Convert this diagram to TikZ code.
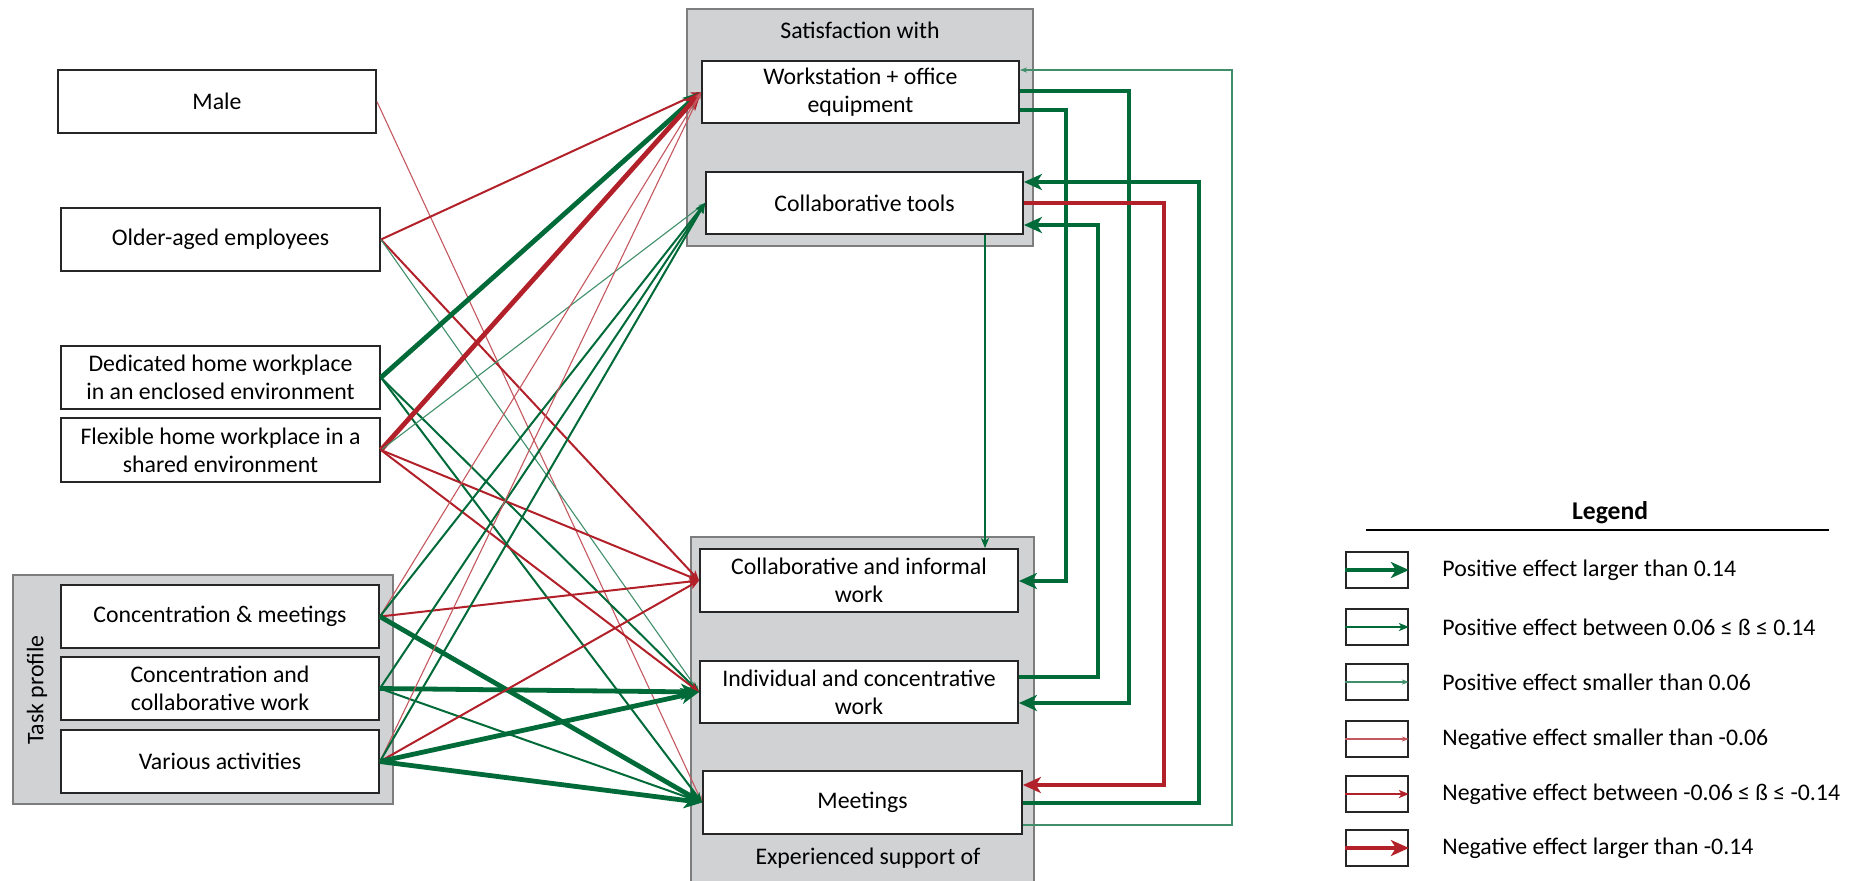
\documentclass[tikz,border=0pt]{standalone}
\usepackage{fontspec}
\setmainfont{Carlito}
\usetikzlibrary{arrows.meta}
\definecolor{pgreen}{RGB}{0,106,56}
\definecolor{nred}{RGB}{178,32,42}
\definecolor{grpfill}{RGB}{209,210,212}
\definecolor{grpline}{RGB}{125,125,125}
\begin{document}
\begin{tikzpicture}[x=0.5pt,y=-0.5pt,
  font=\fontsize{11.9pt}{14pt}\selectfont,
  grp/.style={draw=grpline, fill=grpfill, line width=0.7pt, inner sep=0pt},
  box/.style={draw=black!85, fill=white, line width=0.9pt, inner sep=0pt, align=center, minimum height=31.5pt},
  legbox/.style={draw=black!85, fill=white, line width=0.9pt, inner sep=0pt, minimum width=31pt, minimum height=18pt},
  lbl/.style={inner sep=0pt},
  pa/.style={draw=pgreen, line width=2.4pt, -{Stealth[length=9pt,width=8pt,inset=2.5pt]}},
  pb/.style={draw=pgreen, line width=1pt, -{Stealth[length=5pt,width=4pt,inset=1.3pt]}},
  pc/.style={draw=pgreen!75, line width=0.55pt, -{Stealth[length=3.5pt,width=2.5pt,inset=1pt]}},
  na/.style={draw=nred, line width=2.4pt, -{Stealth[length=9pt,width=8pt,inset=2.5pt]}},
  nb/.style={draw=nred, line width=1pt, -{Stealth[length=5pt,width=4pt,inset=1.3pt]}},
  nc/.style={draw=nred!75, line width=0.55pt, -{Stealth[length=3.5pt,width=2.5pt,inset=1pt]}}
]
\useasboundingbox (0,0) rectangle (1856,880);

% group containers
\node[grp, minimum width=173pt, minimum height=118.5pt] (satgrp) at (860,127.5) {};
\node[grp, minimum width=171.5pt, minimum height=176pt] (expgrp) at (862.5,713) {};
\node[grp, minimum width=190pt, minimum height=114.5pt] (taskgrp) at (203,689.5) {};

\node[lbl] (satlbl) at (860,30) {Satisfaction with};
\node[lbl] (explbl) at (868,858) {Experienced support of};
\node[lbl, rotate=90] (tasklbl) at (37,690) {Task profile};

% left boxes
\node[box, minimum width=159pt] (male) at (217,101.5) {Male};
\node[box, minimum width=159.5pt] (older) at (220.5,239.5) {Older-aged employees};
\node[box, minimum width=159.5pt] (ded) at (220.5,377.5) {Dedicated home workplace\\in an enclosed environment};
\node[box, minimum width=159.5pt, minimum height=32pt] (flex) at (220.5,450) {Flexible home workplace in a\\shared environment};
\node[box, minimum width=159pt] (cm) at (220,616.5) {Concentration \& meetings};
\node[box, minimum width=159pt] (cc) at (220,688.5) {Concentration and\\collaborative work};
\node[box, minimum width=159pt] (va) at (220,761.5) {Various activities};

% right boxes
\node[box, minimum width=158.5pt, minimum height=31pt] (work) at (860.5,92) {Workstation + office\\equipment};
\node[box, minimum width=158.5pt, minimum height=31pt] (tools) at (864.5,203) {Collaborative tools};
\node[box, minimum width=159pt] (ci) at (859,580.5) {Collaborative and informal\\work};
\node[box, minimum width=159pt, minimum height=31pt] (ind) at (859,692) {Individual and concentrative\\work};
\node[box, minimum width=159.5pt] (meet) at (862.5,802.5) {Meetings};

% left-to-right effects
\draw[nc] (male.east) -- (meet.west);
\draw[nb] (older.east) -- (work.west);
\draw[nb] (older.east) -- (ci.west);
\draw[pc] (older.east) -- (ind.west);
\draw[pa] (ded.east) -- (work.west);
\draw[pb] (ded.east) -- (ind.west);
\draw[pb] (ded.east) -- (meet.west);
\draw[na] (flex.east) -- (work.west);
\draw[pc] (flex.east) -- (tools.west);
\draw[nb] (flex.east) -- (ci.west);
\draw[nb] (flex.east) -- (ind.west);
\draw[nc] (cm.east) -- (work.west);
\draw[pb] (cm.east) -- (tools.west);
\draw[nb] (cm.east) -- (ci.west);
\draw[pa] (cm.east) -- (meet.west);
\draw[pb] (cc.east) -- (tools.west);
\draw[pa] (cc.east) -- (ind.west);
\draw[pb] (cc.east) -- (meet.west);
\draw[nc] (va.east) -- (work.west);
\draw[pb] (va.east) -- (tools.west);
\draw[nb] (va.east) -- (ci.west);
\draw[pa] (va.east) -- (ind.west);
\draw[pa] (va.east) -- (meet.west);

% right-side feedback effects
\draw[pc] (meet.east |- 0,825) -| (1232,70) -- (work.east |- 0,70);
\draw[pa] (work.east |- 0,91) -| (1129,703) -- (ind.east |- 0,703);
\draw[pa] (work.east |- 0,110) -| (1066,581) -- (ci.east |- 0,581);
\draw[pa] (meet.east |- 0,803) -| (1199,182) -- (tools.east |- 0,182);
\draw[na] (tools.east |- 0,203) -| (1164,785) -- (meet.east |- 0,785);
\draw[pa] (ind.east |- 0,677) -| (1098,225) -- (tools.east |- 0,225);
\draw[pb] (tools.south -| 985,0) -- (ci.north -| 985,0);

% legend
\node[lbl, font=\fontsize{12.8pt}{14pt}\selectfont\bfseries] (legtitle) at (1610,513) {Legend};
\coordinate (ruleL) at (1366,530);
\coordinate (ruleR) at (1829,530);
\draw[line width=1pt] (ruleL) -- (ruleR);

\node[legbox] (l1) at (1377,570) {};
\node[legbox] (l2) at (1377,627) {};
\node[legbox] (l3) at (1377,682) {};
\node[legbox] (l4) at (1377,739) {};
\node[legbox] (l5) at (1377,794) {};
\node[legbox] (l6) at (1377,848) {};
\draw[pa] (l1.west) -- (l1.east);
\draw[pb] (l2.west) -- (l2.east);
\draw[pc] (l3.west) -- (l3.east);
\draw[nc] (l4.west) -- (l4.east);
\draw[nb] (l5.west) -- (l5.east);
\draw[na] (l6.west) -- (l6.east);
\node[lbl, anchor=west] (t1) at (1442,570) {Positive effect larger than 0.14};
\node[lbl, anchor=west] (t2) at (1442,627) {Positive effect between 0.06 ≤ ß ≤ 0.14};
\node[lbl, anchor=west] (t3) at (1442,682) {Positive effect smaller than 0.06};
\node[lbl, anchor=west] (t4) at (1442,739) {Negative effect smaller than -0.06};
\node[lbl, anchor=west] (t5) at (1442,794) {Negative effect between -0.06 ≤ ß ≤ -0.14};
\node[lbl, anchor=west] (t6) at (1442,848) {Negative effect larger than -0.14};
\end{tikzpicture}
\end{document}
